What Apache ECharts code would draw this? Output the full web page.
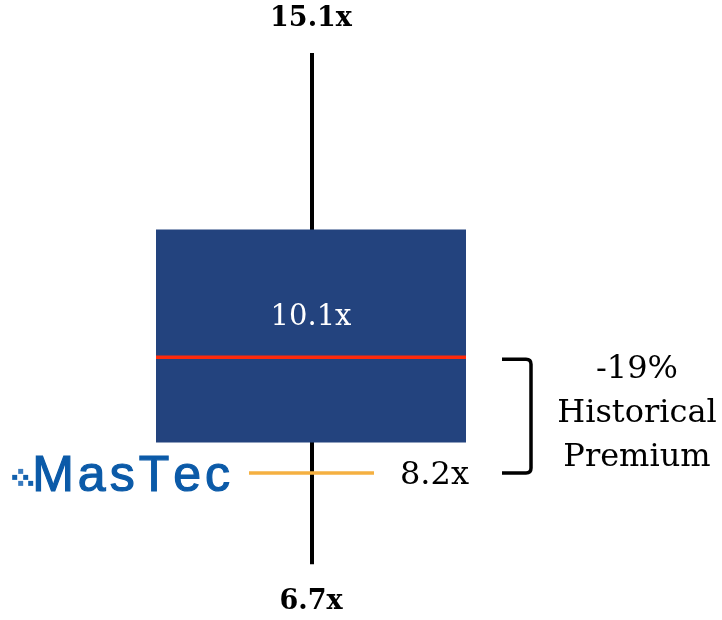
<!DOCTYPE html>
<html>
<head>
<meta charset="utf-8">
<script src="https://cdn.jsdelivr.net/npm/echarts@6/dist/echarts.min.js"></script>
<style>
  html, body { margin: 0; padding: 0; background: #ffffff; }
  #chart { width: 722px; height: 620px; }
</style>
</head>
<body>
<div id="chart"></div>
<script>
// Valuation range: min, Q1, median, Q3, max of the historical multiple
const categories = ['Historical'];
const rangeStats = [[6.7, 8.7, 10.1, 12.2, 15.1]];
// Current multiple of the company
const currentMultiple = [8.2];
const companyName = 'MasTec';
const premiumCaption = ['Historical', 'Premium'];
const axisRange = [6.1, 15.9];

const SERIF = '"DejaVu Serif", "Liberation Serif", serif';
const SANS = '"Liberation Sans", Arial, sans-serif';
const fmt = v => v.toFixed(1) + 'x';

// Measure logo letters so they can be spaced out like a wordmark
const LOGO_FONT = '50px ' + SANS;
const LOGO_SPACING = 4;
const measureCtx = document.createElement('canvas').getContext('2d');
measureCtx.font = LOGO_FONT;
const logoAdvances = companyName.split('').map(ch => measureCtx.measureText(ch).width);
const logoWidth = logoAdvances.reduce((a, b) => a + b, 0) + LOGO_SPACING * (logoAdvances.length - 1);

const seriesData = categories.map((c, i) => [i, ...rangeStats[i], currentMultiple[i]]);

function renderItem(params, api) {
  const idx = api.value(0);
  const at = v => api.coord([idx, v]);
  const vMin = api.value(1), vQ1 = api.value(2), vMed = api.value(3),
        vQ3 = api.value(4), vMax = api.value(5), vCur = api.value(6);
  const cx = at(vMed)[0];
  const yMin = at(vMin)[1], yQ1 = at(vQ1)[1], yMed = at(vMed)[1],
        yQ3 = at(vQ3)[1], yMax = at(vMax)[1], yCur = at(vCur)[1];
  const half = 155;
  const kids = [];

  // whisker
  kids.push({ type: 'line', shape: { x1: cx + 1, y1: yMax, x2: cx + 1, y2: yMin },
    style: { stroke: '#000000', lineWidth: 4 } });
  // interquartile box
  kids.push({ type: 'rect', shape: { x: cx - half, y: yQ3, width: half * 2, height: yQ1 - yQ3 },
    style: { fill: '#23437e' } });
  // median
  kids.push({ type: 'line', shape: { x1: cx - half, y1: yMed, x2: cx + half, y2: yMed },
    style: { stroke: '#ff2a0a', lineWidth: 3.5 } });
  // current multiple
  kids.push({ type: 'line', shape: { x1: cx - 62, y1: yCur, x2: cx + 63, y2: yCur },
    style: { stroke: '#f5b041', lineWidth: 3.5 } });

  // value labels
  kids.push({ type: 'text', x: cx, y: yMax - 34,
    style: { text: fmt(vMax), font: 'bold 27px ' + SERIF, fill: '#000', align: 'center', verticalAlign: 'middle' } });
  kids.push({ type: 'text', x: cx, y: yMin + 38,
    style: { text: fmt(vMin), font: 'bold 27px ' + SERIF, fill: '#000', align: 'center', verticalAlign: 'middle' } });
  kids.push({ type: 'text', x: cx, y: yMed - 40,
    style: { text: fmt(vMed), font: '29px ' + SERIF, fill: '#ffffff', align: 'center', verticalAlign: 'middle' } });
  kids.push({ type: 'text', x: cx + 89, y: yCur + 3,
    style: { text: fmt(vCur), font: '32px ' + SERIF, fill: '#000', align: 'left', verticalAlign: 'middle' } });

  // bracket between median and current multiple
  const bx1 = cx + 191, bx2 = cx + 220, r = 5;
  const yT = yMed + 2, yB = yCur;
  kids.push({ type: 'path',
    shape: { pathData: `M${bx1},${yT} L${bx2 - r},${yT} Q${bx2},${yT} ${bx2},${yT + r} L${bx2},${yB - r} Q${bx2},${yB} ${bx2 - r},${yB} L${bx1},${yB}` },
    style: { stroke: '#000000', lineWidth: 3.5, fill: null } });
  const pct = Math.round((vCur / vMed - 1) * 100);
  kids.push({ type: 'text', x: cx + 326, y: (yT + yB) / 2 - 2,
    style: { text: [pct + '%', ...premiumCaption].join('\n'), font: '32px ' + SERIF, fill: '#000',
      align: 'center', verticalAlign: 'middle', lineHeight: 44 } });

  // company wordmark
  const logoRight = cx - 81;
  let lx = logoRight - logoWidth;
  const logoLeft = lx;
  companyName.split('').forEach((ch, i) => {
    kids.push({ type: 'text', x: lx, y: yCur + 4,
      style: { text: ch, font: LOGO_FONT, fill: '#0b5aa8', stroke: '#0b5aa8', lineWidth: 1.2,
        align: 'left', verticalAlign: 'middle' } });
    lx += logoAdvances[i] + LOGO_SPACING;
  });
  const dots = [[-20, 2], [-14, -4], [-9, 2], [-14, 8], [-4, 8]];
  dots.forEach(([dx, dy], i) => {
    kids.push({ type: 'rect', shape: { x: logoLeft + dx, y: yCur + dy, width: 5, height: 5 },
      style: { fill: i % 2 ? '#3a7cc0' : '#1160ad' } });
  });

  return { type: 'group', children: kids };
}

const chart = echarts.init(document.getElementById('chart'), null, { renderer: 'canvas' });
chart.setOption({
  animation: false,
  backgroundColor: '#ffffff',
  grid: { left: 0, right: 100, top: 4.2, bottom: 19.3, containLabel: false, outerBoundsMode: 'none' },
  xAxis: { type: 'category', data: categories, show: false },
  yAxis: { type: 'value', min: axisRange[0], max: axisRange[1], show: false },
  series: [{
    type: 'custom',
    renderItem: renderItem,
    data: seriesData,
    encode: { x: 0, y: [1, 2, 3, 4, 5, 6] },
    clip: false,
    silent: true
  }]
});
</script>
</body>
</html>
